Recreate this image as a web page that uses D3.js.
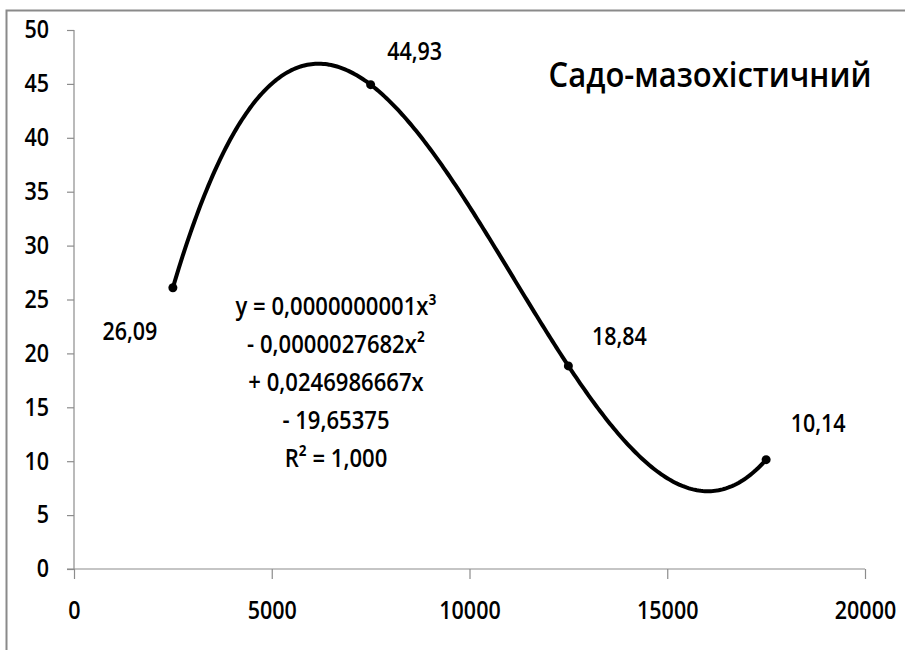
<!DOCTYPE html>
<html>
<head>
<meta charset="utf-8">
<script src="https://cdn.jsdelivr.net/npm/d3@7"></script>
<style>
  body { margin: 0; background: #fff; }
  text { font-family: "Open Sans", Lato, sans-serif; fill: #000; font-weight: 600; }
</style>
</head>
<body>
<div id="chart"></div>
<script>
// data
const xValues = [2500, 7500, 12500, 17500]
const yValues = [26.09, 44.93, 18.84, 10.14]
const pointLabels = ["26,09", "44,93", "18,84", "10,14"]
const xTicks = [0, 5000, 10000, 15000, 20000]
const yTicks = [0, 5, 10, 15, 20, 25, 30, 35, 40, 45, 50]
const equationLines = ["y = 0,0000000001x³", "- 0,0000027682x²", "+ 0,0246986667x", "- 19,65375", "R² = 1,000"]
const title = "Садо-мазохістичний"

const w = 905
const h = 650

const svg = d3.select("#chart")
  .append("svg")
  .attr("width", w)
  .attr("height", h)

// the original text is a bit taller than it is wide (stretched image)
function stretch(sel, sx, sy) {
  sel.each(function () {
    const t = d3.select(this)
    const x = +t.attr("x") || 0
    const y = +t.attr("y") || 0
    t.attr("x", null).attr("y", null)
      .attr("transform", `translate(${x},${y}) scale(${sx},${sy})`)
  })
}

// frame (right / bottom edges are cut off in the original)
svg.append("rect")
  .attr("x", 6.5).attr("y", 10.5)
  .attr("width", 920).attr("height", 700)
  .attr("fill", "none")
  .attr("stroke", "#8a8a8a")
  .attr("stroke-width", 2)

const xScale = d3.scaleLinear().domain([0, 20000]).range([74, 865])
const yScale = d3.scaleLinear().domain([0, 50]).range([569, 30])

const yAxis = d3.axisLeft(yScale).tickValues(yTicks).tickSize(7).tickPadding(18).tickFormat(d3.format("d"))
const xAxis = d3.axisBottom(xScale).tickValues(xTicks).tickSize(10).tickPadding(23).tickFormat(d3.format("d"))

const gy = svg.append("g")
  .attr("transform", `translate(${xScale(0)},0)`)
  .call(yAxis)
const gx = svg.append("g")
  .attr("transform", `translate(0,${yScale(0)})`)
  .call(xAxis)

for (const g of [gx, gy]) {
  g.selectAll("line").attr("stroke", "#8c8c8c").attr("stroke-width", 1.2)
  g.select(".domain").remove()
  g.selectAll("text").attr("font-size", 21.5).attr("font-family", "Open Sans").attr("fill", "#000")
  stretch(g.selectAll("text"), 1, 1.14)
}
svg.append("line")
  .attr("x1", xScale(0)).attr("x2", xScale(0))
  .attr("y1", yScale(50)).attr("y2", yScale(0))
  .attr("stroke", "#8c8c8c").attr("stroke-width", 1.2)
svg.append("line")
  .attr("x1", xScale(0) - 7).attr("x2", xScale(20000))
  .attr("y1", yScale(0)).attr("y2", yScale(0))
  .attr("stroke", "#8c8c8c").attr("stroke-width", 1.2)

// cubic trendline, least squares on the points (same as the spreadsheet trendline)
function polyfit(xs, ys, deg) {
  const n = deg + 1
  const s = xs.map(x => x / 10000)
  const A = d3.range(n).map(i => d3.range(n).map(j => d3.sum(s, v => Math.pow(v, i + j))))
  const b = d3.range(n).map(i => d3.sum(s, (v, k) => Math.pow(v, i) * ys[k]))
  for (let c = 0; c < n; c++) {
    let p = c
    for (let r = c + 1; r < n; r++) if (Math.abs(A[r][c]) > Math.abs(A[p][c])) p = r
    ;[A[c], A[p]] = [A[p], A[c]]; [b[c], b[p]] = [b[p], b[c]]
    for (let r = 0; r < n; r++) {
      if (r === c) continue
      const f = A[r][c] / A[c][c]
      for (let k = c; k < n; k++) A[r][k] -= f * A[c][k]
      b[r] -= f * b[c]
    }
  }
  const coef = b.map((v, i) => v / A[i][i])
  return x => d3.sum(coef, (c, i) => c * Math.pow(x / 10000, i))
}
const trend = polyfit(xValues, yValues, 3)
const xs = d3.range(d3.min(xValues), d3.max(xValues) + 1, 50)

const line = d3.line()
  .x(d => xScale(d))
  .y(d => yScale(trend(d)))

svg.append("path")
  .datum(xs)
  .attr("d", line)
  .attr("fill", "none")
  .attr("stroke", "#000")
  .attr("stroke-width", 4)
  .attr("stroke-linecap", "round")

svg.selectAll("circle.pt")
  .data(xValues)
  .enter()
  .append("circle")
  .attr("class", "pt")
  .attr("cx", d => xScale(d))
  .attr("cy", (d, i) => yScale(yValues[i]))
  .attr("r", 4.5)
  .attr("fill", "#000")

// data labels
const labelOffsets = [[-43, 52], [44, -25], [51, -21], [52, -28]]
svg.selectAll("text.lbl")
  .data(pointLabels)
  .enter()
  .append("text")
  .attr("class", "lbl")
  .attr("x", (d, i) => xScale(xValues[i]) + labelOffsets[i][0])
  .attr("y", (d, i) => yScale(yValues[i]) + labelOffsets[i][1])
  .attr("text-anchor", "middle")
  .attr("font-size", 21.5)
  .text(d => d)
  .call(stretch, 1, 1.14)

// trendline equation
svg.selectAll("text.eq")
  .data(equationLines)
  .enter()
  .append("text")
  .attr("class", "eq")
  .attr("x", 336)
  .attr("y", (d, i) => 315 + i * 38)
  .attr("text-anchor", "middle")
  .attr("font-size", 23)
  .text(d => d)
  .call(stretch, 0.96, 1.1)

svg.append("text")
  .attr("x", 710)
  .attr("y", 87)
  .attr("text-anchor", "middle")
  .attr("font-size", 31)
  .text(title)
  .call(stretch, 1, 1.12)
</script>
</body>
</html>
